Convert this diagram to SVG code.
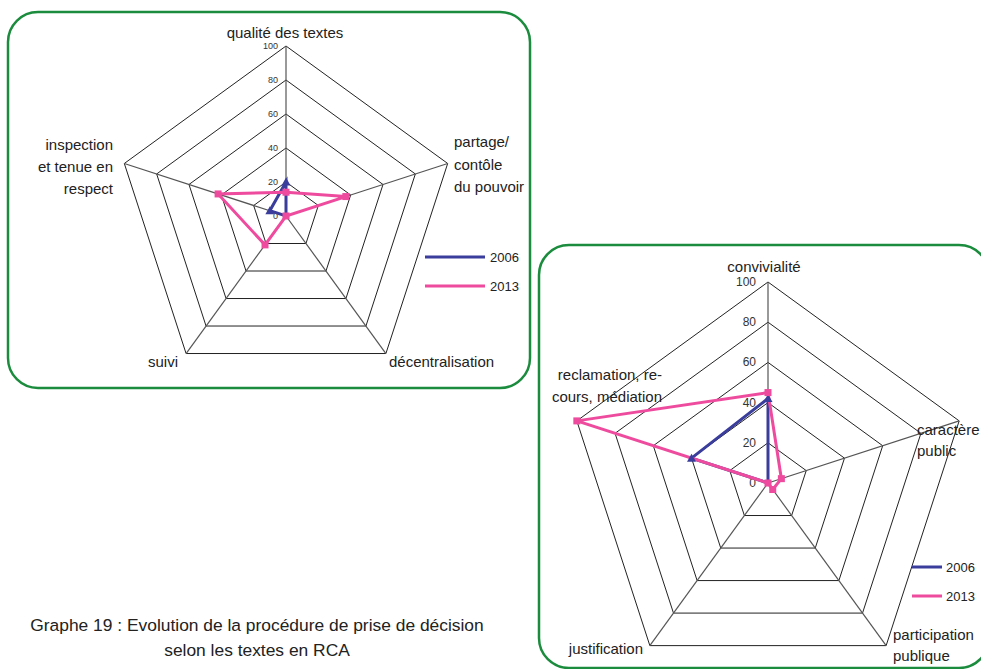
<svg xmlns="http://www.w3.org/2000/svg" width="981" height="669" viewBox="0 0 981 669">
<style>
  .frame{fill:none;stroke:#1b8c3d;stroke-width:2.5}
  .ring{fill:none;stroke:#222;stroke-width:1}
  .spoke{stroke:#555;stroke-width:1.2}
  .lbl{font-family:"Liberation Sans",Arial,sans-serif;font-size:15px;fill:#222}
  .tkL{font-family:"Liberation Sans",Arial,sans-serif;font-size:9px;fill:#333;text-anchor:end}
  .tkR{font-family:"Liberation Sans",Arial,sans-serif;font-size:12px;fill:#333;text-anchor:end}
  .leg{font-family:"Liberation Sans",Arial,sans-serif;font-size:13px;fill:#222}
  .cap{font-family:"Liberation Sans",Arial,sans-serif;font-size:17.4px;fill:#222;text-anchor:middle}
  .s06{fill:none;stroke:#3a3d9c;stroke-width:3;stroke-linejoin:miter}
  .s13{fill:none;stroke:#ee4b9e;stroke-width:3;stroke-linejoin:miter}
  .m13{fill:#ee4b9e}
  .m06{fill:#3a3d9c}
</style>
<defs>
  <rect id="sq" x="-3.5" y="-3.5" width="7" height="7" class="m13"/>
  <polygon id="tri" points="0,-4.5 4.5,3.5 -4.5,3.5" class="m06"/>
</defs>

<!-- Left chart -->
<g id="chart-left">
  <rect class="frame" x="8" y="12" width="522" height="376" rx="30" ry="30"/>
  <g id="grid-left">
    <polygon class="ring" points="286,182 318.34,205.49 305.98,243.51 266.02,243.51 253.66,205.49"/>
    <polygon class="ring" points="286,148 350.67,194.99 325.97,271.01 246.03,271.01 221.33,194.99"/>
    <polygon class="ring" points="286,114 383.01,184.48 345.95,298.52 226.05,298.52 188.99,184.48"/>
    <polygon class="ring" points="286,80 415.34,173.97 365.94,326.03 206.06,326.03 156.66,173.97"/>
    <polygon class="ring" points="286,46 447.68,163.47 385.92,353.53 186.08,353.53 124.32,163.47"/>
    <line class="spoke" x1="286" y1="216" x2="286" y2="46"/>
    <line class="spoke" x1="286" y1="216" x2="447.68" y2="163.47"/>
    <line class="spoke" x1="286" y1="216" x2="385.92" y2="353.53"/>
    <line class="spoke" x1="286" y1="216" x2="186.08" y2="353.53"/>
    <line class="spoke" x1="286" y1="216" x2="124.32" y2="163.47"/>
  </g>
  <g id="ticks-left">
    <text class="tkL" x="278" y="219">0</text>
    <text class="tkL" x="278" y="185">20</text>
    <text class="tkL" x="278" y="151">40</text>
    <text class="tkL" x="278" y="117">60</text>
    <text class="tkL" x="278" y="83">80</text>
    <text class="tkL" x="278" y="49">100</text>
  </g>
  <g id="series-left">
    <polygon class="s06" points="286,182 286,216 269.83,210.75"/>
    <polygon class="s13" points="286,192.2 345.82,196.56 286,216 265.02,244.88 218.09,193.94"/>
    <use href="#tri" x="286" y="182"/>
    <use href="#tri" x="269.83" y="210.75"/>
    <use href="#sq" x="286" y="192.2"/>
    <use href="#sq" x="345.82" y="196.56"/>
    <use href="#sq" x="286" y="216"/>
    <use href="#sq" x="265.02" y="244.88"/>
    <use href="#sq" x="218.09" y="193.94"/>
  </g>
  <g id="labels-left">
    <text class="lbl" x="285" y="38" text-anchor="middle">qualité des textes</text>
    <text class="lbl" x="113" y="150" text-anchor="end">inspection</text>
    <text class="lbl" x="113" y="172" text-anchor="end">et tenue en</text>
    <text class="lbl" x="113" y="194" text-anchor="end">respect</text>
    <text class="lbl" x="454" y="147">partage/</text>
    <text class="lbl" x="454" y="170">contôle</text>
    <text class="lbl" x="454" y="192">du pouvoir</text>
    <text class="lbl" x="178" y="367" text-anchor="end">suivi</text>
    <text class="lbl" x="389" y="367">décentralisation</text>
  </g>
  <g id="legend-left">
    <line x1="425" y1="257" x2="485" y2="257" stroke="#3a3d9c" stroke-width="3"/>
    <text class="leg" x="490" y="262">2006</text>
    <line x1="425" y1="286" x2="485" y2="286" stroke="#ee4b9e" stroke-width="3"/>
    <text class="leg" x="490" y="291">2013</text>
  </g>
</g>

<!-- Right chart -->
<g id="chart-right">
  <rect class="frame" x="539" y="245" width="450" height="423" rx="30" ry="30"/>
  <g id="grid-right">
    <polygon class="ring" points="768,442.8 806.23,470.58 791.63,515.52 744.37,515.52 729.77,470.58"/>
    <polygon class="ring" points="768,402.6 844.47,458.15 815.26,548.05 720.74,548.05 691.53,458.15"/>
    <polygon class="ring" points="768,362.4 882.70,445.73 838.89,580.57 697.11,580.57 653.30,445.73"/>
    <polygon class="ring" points="768,322.2 920.93,433.31 862.52,613.09 673.48,613.09 615.07,433.31"/>
    <polygon class="ring" points="768,282 959.16,420.89 886.15,645.61 649.85,645.61 576.84,420.89"/>
    <line class="spoke" x1="768" y1="483" x2="768" y2="282"/>
    <line class="spoke" x1="768" y1="483" x2="959.16" y2="420.89"/>
    <line class="spoke" x1="768" y1="483" x2="886.15" y2="645.61"/>
    <line class="spoke" x1="768" y1="483" x2="649.85" y2="645.61"/>
    <line class="spoke" x1="768" y1="483" x2="576.84" y2="420.89"/>
  </g>
  <g id="ticks-right">
    <text class="tkR" x="756" y="487">0</text>
    <text class="tkR" x="756" y="447">20</text>
    <text class="tkR" x="756" y="407">40</text>
    <text class="tkR" x="756" y="366">60</text>
    <text class="tkR" x="756" y="326">80</text>
    <text class="tkR" x="756" y="286">100</text>
  </g>
  <g id="series-right">
    <polygon class="s06" points="768,398.58 768,483 691.53,458.15"/>
    <polygon class="s13" points="768,392.55 781.38,478.65 772.73,489.5 768,483 576.84,420.89"/>
    <use href="#tri" x="768" y="398.58"/>
    <use href="#tri" x="691.53" y="458.15"/>
    <use href="#sq" x="768" y="392.55"/>
    <use href="#sq" x="781.38" y="478.65"/>
    <use href="#sq" x="772.73" y="489.5"/>
    <use href="#sq" x="768" y="483"/>
    <use href="#sq" x="576.84" y="420.89"/>
  </g>
  <g id="labels-right">
    <text class="lbl" x="764" y="272" text-anchor="middle">convivialité</text>
    <text class="lbl" x="662" y="380" text-anchor="end">reclamation, re-</text>
    <text class="lbl" x="662" y="402" text-anchor="end">cours, médiation</text>
    <text class="lbl" x="917" y="435">caractère</text>
    <text class="lbl" x="917" y="456">public</text>
    <text class="lbl" x="643" y="654" text-anchor="end">justification</text>
    <text class="lbl" x="893" y="640">participation</text>
    <text class="lbl" x="893" y="661">publique</text>
  </g>
  <g id="legend-right">
    <line x1="912" y1="567" x2="942" y2="567" stroke="#3a3d9c" stroke-width="3"/>
    <text class="leg" x="946" y="572">2006</text>
    <line x1="912" y1="596" x2="942" y2="596" stroke="#ee4b9e" stroke-width="3"/>
    <text class="leg" x="946" y="601">2013</text>
  </g>
</g>

<g id="caption">
  <text class="cap" x="257" y="631">Graphe 19 : Evolution de la procédure de prise de décision</text>
  <text class="cap" x="257" y="656">selon les textes en RCA</text>
</g>
</svg>
